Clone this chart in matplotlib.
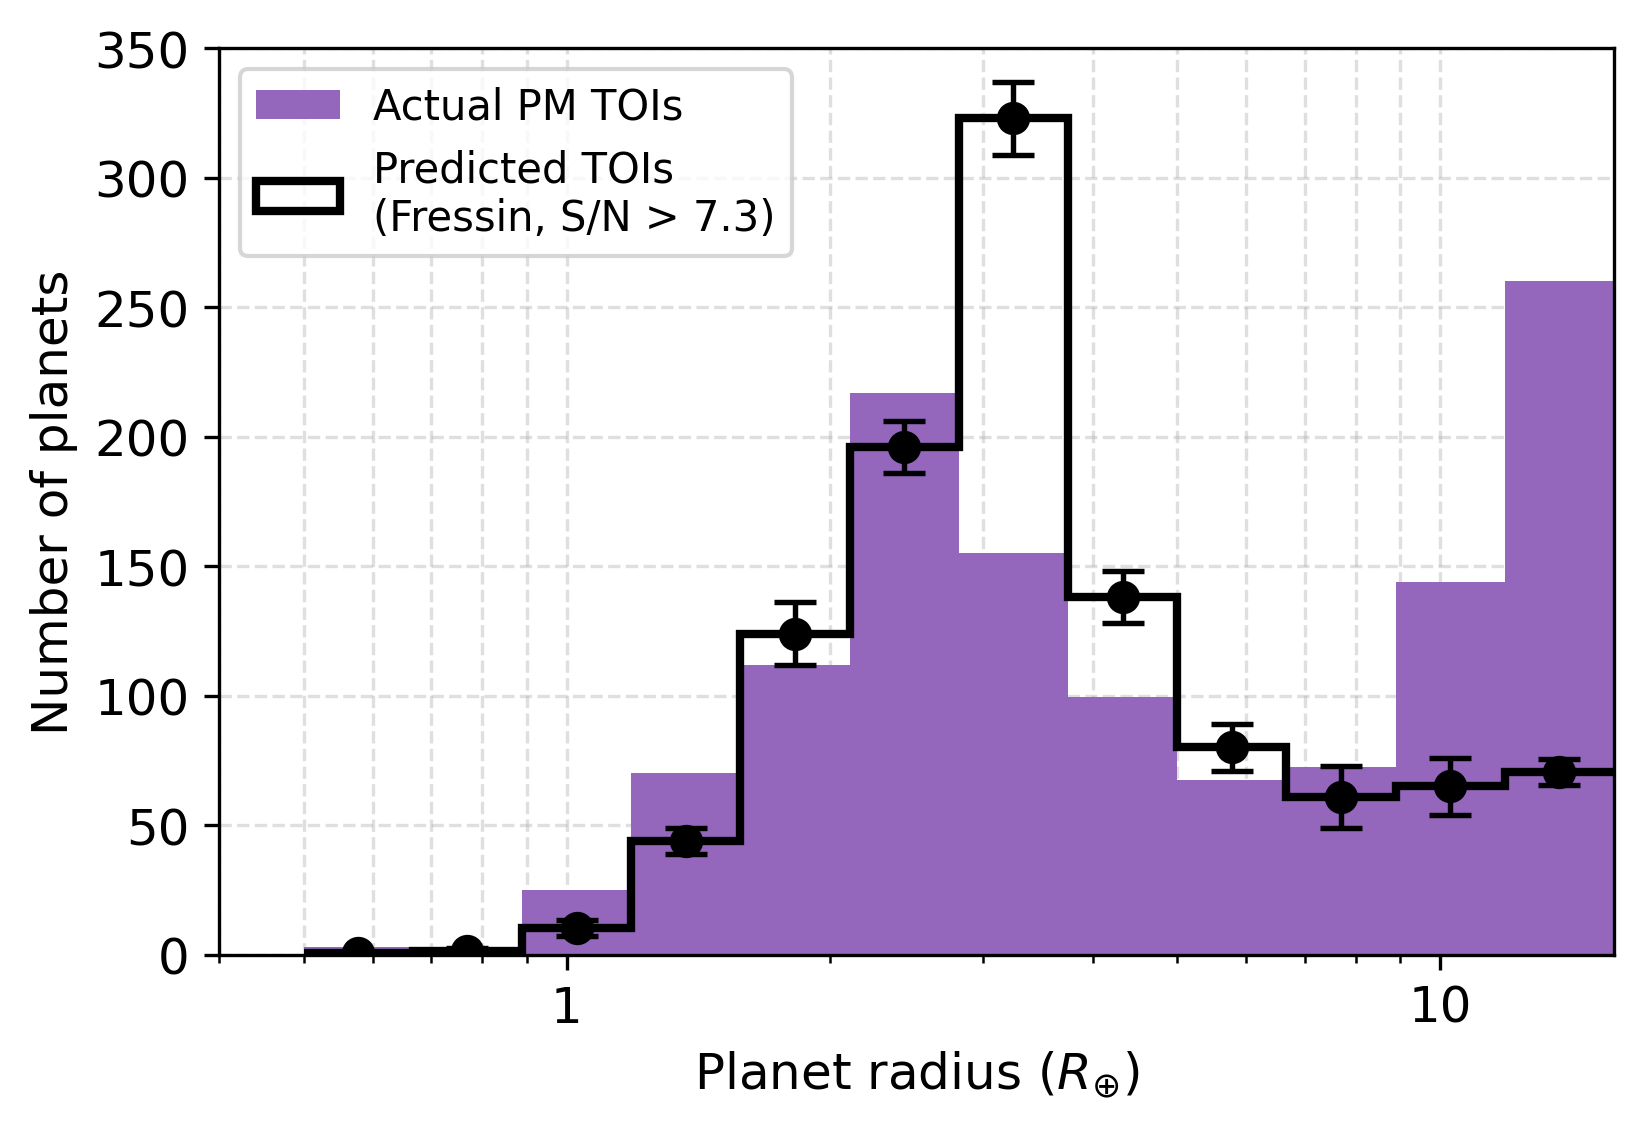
import numpy as np
import matplotlib
matplotlib.use("Agg")
import matplotlib.pyplot as plt
from matplotlib.patches import Patch
from matplotlib.ticker import FormatStrFormatter, NullFormatter

# ビン境界（対数等間隔, 0.125 dex）
bin_edges = [0.5 * 10 ** (0.125 * k) for k in range(13)]
bin_centers = [np.sqrt(a * b) for a, b in zip(bin_edges[:-1], bin_edges[1:])]

# 実際の PM TOI 数
actual_tois = [3, 2, 25, 70, 112, 217, 155, 99.5, 67.5, 72.5, 144, 260]
# 予測 TOI 数（Fressin, S/N > 7.3）
predicted_tois = [0.6, 1.5, 10.3, 44, 124, 196, 323, 138, 80, 61, 65, 70.5]
predicted_err = [0.5, 1, 3, 5, 12, 10, 14, 10, 9, 12, 11, 5]

plt.rcParams["font.family"] = ["DejaVu Sans"]

fig = plt.figure(figsize=(5.48, 3.763), dpi=300)
ax = fig.add_axes([0.1332, 0.1536, 0.9818 - 0.1332, 0.9563 - 0.1536])

ax.hist(bin_centers, bins=bin_edges, weights=actual_tois,
        color="tab:purple", label="Actual PM TOIs")
ax.stairs(predicted_tois, bin_edges, baseline=None, color="black", lw=2)
ax.errorbar(bin_centers, predicted_tois, yerr=predicted_err,
            fmt="o", color="black", ms=7, elinewidth=1.3,
            capsize=5, capthick=1.3)

ax.set_xscale("log")
ax.set_xlim(0.4, bin_edges[-1])
ax.set_ylim(0, 350)
ax.xaxis.set_major_formatter(FormatStrFormatter("%g"))
ax.xaxis.set_minor_formatter(NullFormatter())

ax.set_axisbelow(True)
ax.grid(True, which="both", axis="x", ls="--", alpha=0.4)
ax.grid(True, which="major", axis="y", ls="--", alpha=0.4)

ax.tick_params(labelsize=12)
ax.set_xlabel(r"Planet radius ($R_{\oplus}$)", fontsize=12)
ax.set_ylabel("Number of planets", fontsize=12)

handles, labels = ax.get_legend_handles_labels()
handles.append(Patch(facecolor="none", edgecolor="black", lw=2))
labels.append("Predicted TOIs\n(Fressin, S/N > 7.3)")
ax.legend(handles, labels, loc="upper left", fontsize=10)

fig.savefig("out.png", dpi=300)
